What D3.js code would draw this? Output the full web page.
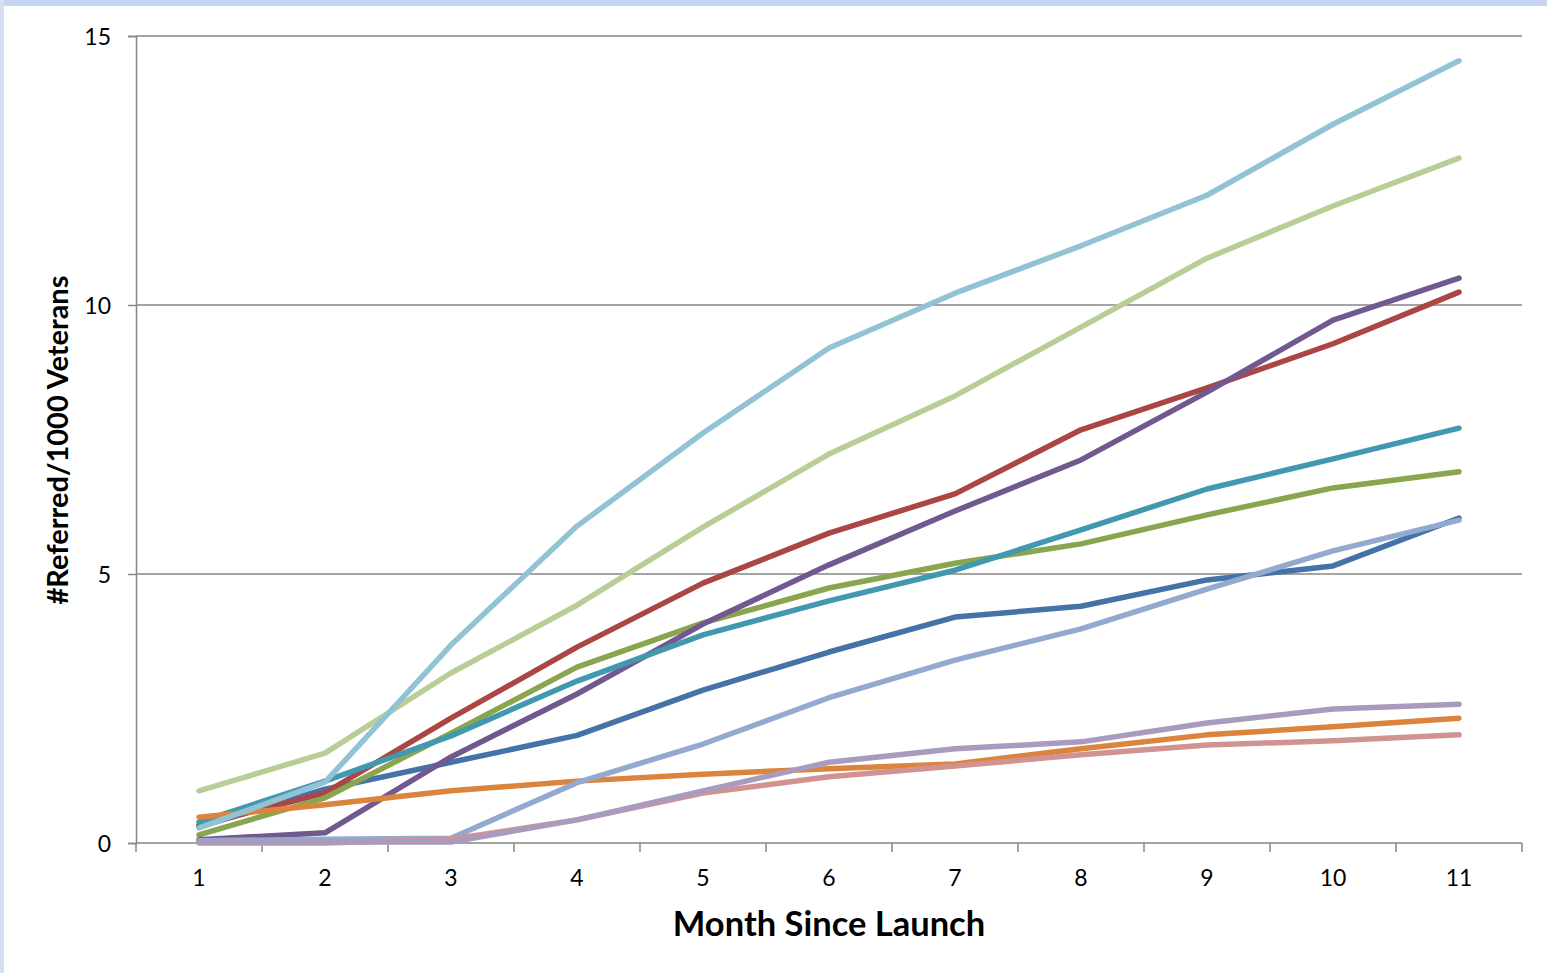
<!DOCTYPE html>
<html>
<head>
<meta charset="utf-8">
<script src="https://cdn.jsdelivr.net/npm/d3@7"></script>
<style>
  html, body { margin: 0; padding: 0; background: #fff; }
  svg { display: block; }
  text { font-family: Lato, "Open Sans", sans-serif; fill: #000; }
</style>
</head>
<body>
<svg id="chart" width="1547" height="973"></svg>
<script>
// Months since launch (category axis)
const months = ["1", "2", "3", "4", "5", "6", "7", "8", "9", "10", "11"];
const yTicks = [0, 5, 10, 15];

// Referrals per 1000 veterans, one array per site
const siteA = [0.30, 1.00, 1.50, 2.00, 2.84, 3.55, 4.20, 4.40, 4.89, 5.15, 6.04];
const siteB = [0.33, 0.93, 2.32, 3.64, 4.83, 5.76, 6.49, 7.68, 8.46, 9.28, 10.24];
const siteC = [0.15, 0.84, 2.04, 3.27, 4.09, 4.74, 5.20, 5.56, 6.10, 6.60, 6.90];
const siteD = [0.06, 0.19, 1.60, 2.77, 4.07, 5.17, 6.17, 7.12, 8.38, 9.72, 10.50];
const siteE = [0.39, 1.15, 1.99, 3.01, 3.87, 4.50, 5.07, 5.82, 6.58, 7.14, 7.71];
const siteF = [0.48, 0.71, 0.97, 1.15, 1.28, 1.38, 1.47, 1.75, 2.01, 2.16, 2.32];
const siteG = [0.04, 0.07, 0.09, 1.12, 1.84, 2.70, 3.40, 3.98, 4.72, 5.43, 6.00];
const siteH = [0.00, 0.00, 0.07, 0.43, 0.93, 1.23, 1.43, 1.64, 1.82, 1.90, 2.01];
const siteI = [0.97, 1.67, 3.16, 4.42, 5.87, 7.23, 8.31, 9.59, 10.87, 11.84, 12.73];
const siteJ = [0.02, 0.02, 0.02, 0.43, 0.97, 1.50, 1.75, 1.88, 2.23, 2.49, 2.58];
const siteK = [0.28, 1.13, 3.68, 5.89, 7.62, 9.20, 10.22, 11.10, 12.04, 13.36, 14.54];

const seriesList = [siteA, siteB, siteC, siteD, siteE, siteF, siteG, siteH, siteI, siteJ, siteK];
const colors = ["#4572A7", "#AA4643", "#89A54E", "#71588F", "#4198AF", "#DB843D",
                "#93A9CF", "#D19392", "#B9CD96", "#A99BBD", "#91C3D5"];

const svg = d3.select("#chart");
const W = 1547, H = 973;

// Light blue window frame along top and left edges
svg.append("rect").attr("x", 0).attr("y", 0).attr("width", W).attr("height", 6).attr("fill", "#c6d5ef");
svg.append("rect").attr("x", 0).attr("y", 0).attr("width", 4).attr("height", H).attr("fill", "#d3def2");

const plot = { left: 136, right: 1522, top: 36, bottom: 843 };

const x = d3.scaleBand().domain(months).range([plot.left, plot.right]).paddingInner(0).paddingOuter(0);
const y = d3.scaleLinear().domain([0, 15]).range([plot.bottom, plot.top]);

const axisColor = "#868686";

// Value axis with outward tick marks
const yAxis = d3.axisLeft(y).tickValues(yTicks).tickSize(8).tickPadding(17).tickFormat(d3.format("d"));
const yg = svg.append("g").attr("transform", `translate(${plot.left},0)`).call(yAxis);
yg.select(".domain").attr("stroke", axisColor).attr("stroke-width", 1.5);
yg.selectAll(".tick line").attr("stroke", axisColor).attr("stroke-width", 1.5);
yg.selectAll(".tick text").attr("font-size", 23).attr("fill", "#000")
  .attr("font-family", "Lato, 'Open Sans', sans-serif").attr("dy", "0.36em");

// Horizontal gridlines
svg.append("g").selectAll("line.grid").data(yTicks.filter(d => d > 0)).join("line")
  .attr("x1", plot.left).attr("x2", plot.right)
  .attr("y1", d => y(d)).attr("y2", d => y(d))
  .attr("stroke", axisColor).attr("stroke-width", 1.5);

// Category axis: ticks sit at the category boundaries
const boundaries = months.map(m => x(m)).concat([plot.right]);
const xg = svg.append("g");
xg.append("line").attr("x1", plot.left).attr("x2", plot.right)
  .attr("y1", plot.bottom).attr("y2", plot.bottom)
  .attr("stroke", axisColor).attr("stroke-width", 1.5);
xg.selectAll("line.tick").data(boundaries).join("line")
  .attr("x1", d => d).attr("x2", d => d)
  .attr("y1", plot.bottom).attr("y2", plot.bottom + 9)
  .attr("stroke", axisColor).attr("stroke-width", 1.5);
xg.selectAll("text").data(months).join("text")
  .attr("x", d => x(d) + x.bandwidth() / 2)
  .attr("y", plot.bottom + 43)
  .attr("text-anchor", "middle")
  .attr("font-size", 23)
  .text(d => d);

// Lines
const line = d3.line()
  .x((d, i) => x(months[i]) + x.bandwidth() / 2)
  .y(d => y(d));

svg.append("g").selectAll("path").data(seriesList).join("path")
  .attr("d", d => line(d))
  .attr("fill", "none")
  .attr("stroke", (d, i) => colors[i])
  .attr("stroke-width", 5.5)
  .attr("stroke-linejoin", "round")
  .attr("stroke-linecap", "round");

// Axis titles
svg.append("text")
  .attr("x", 829)
  .attr("y", 936)
  .attr("text-anchor", "middle")
  .attr("font-size", 34.5)
  .attr("font-weight", "bold")
  .text("Month Since Launch");

svg.append("text")
  .attr("transform", `translate(68, 440) rotate(-90)`)
  .attr("text-anchor", "middle")
  .attr("font-size", 29)
  .attr("font-weight", "bold")
  .text("#Referred/1000 Veterans");
</script>
</body>
</html>
